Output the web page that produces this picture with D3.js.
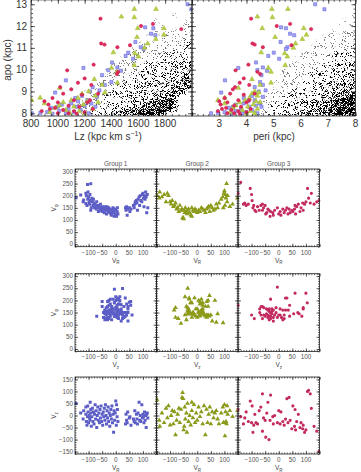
<!DOCTYPE html>
<html>
<head>
<meta charset="utf-8">
<script src="https://cdn.jsdelivr.net/npm/d3@7"></script>
<style>
  body { margin: 0; background: #fff; }
  svg { display: block; }
  text { font-family: "Liberation Sans", "DejaVu Sans", sans-serif; }
</style>
</head>
<body>
<svg id="fig" width="361" height="472"></svg>
<script>
//////////////////
// Data
//////////////////

// background sample, density per cell (0-9), rows from apo 13.0 down to 8.0 (step 0.25)
// apo vs Lz : columns Lz 800..1950 step 50
var densityLz = [
    "000000000000000000000000",
    "000000000000000000000000",
    "000000000000000000000100",
    "000000000000000000100001",
    "000000000000000000010011",
    "000000000000000000101111",
    "000000000000000001011111",
    "000000000000000010111112",
    "000000000000000111111122",
    "000000000000001111112222",
    "000000000000011111122223",
    "000000000000111112222333",
    "000000000001111122223334",
    "000000000011111222333445",
    "000000000011112223334456",
    "000000000111122233344567",
    "000000001111222333445670",
    "000000001112223334456700",
    "000000011112233445678400",
    "000000111222334567889500",
    "000000111234567899970000"
];
// apo vs peri : columns peri 2..7.75 step 0.25
var densityPeri = [
    "000000000000000000000000",
    "000000000000000000000000",
    "000000000000000000000001",
    "000000000000000000000010",
    "000000000000000000000101",
    "000000000000000000001011",
    "000000000000000000011111",
    "000000000000000000111111",
    "000000000000000001111112",
    "000000000000000011111222",
    "000000000000000111112222",
    "000000000000001111122223",
    "000000000000011111222333",
    "000000000000011112223334",
    "000000000000111122233344",
    "000000000000111222333445",
    "000000000001112223334456",
    "000000000011122233445677",
    "000000000011222334456788",
    "000000000112223344567899",
    "000000000112233445678999"
];

// orbital parameters of the groups: [Lz, apo, peri]
var orbitGroup1 = [
    [1967,13.0,6.52],[1995,12.77,6.86],[1651,11.94,5.27],[1712,11.9,5.45],[1695,11.65,5.6],
    [1727,11.58,5.75],[1578,11.27,5.25],[1618,11.03,5.5],[1640,10.95,5.45],[1525,10.78,5.0],
    [1505,10.63,4.8],[1560,10.5,5.2],[1404,10.33,4.35],[1444,10.1,4.6],[1376,9.98,4.4],
    [1470,9.95,4.75],[1191,10.08,3.7],[1330,9.75,4.55],[1060,9.51,3.21],[1399,9.43,4.5],
    [1350,9.3,4.6],[1260,9.2,4.3],[1310,9.05,4.7],[980,8.95,3.07],[1240,9.0,4.45],
    [1180,8.8,4.2],[1290,8.75,4.6],[1220,8.6,4.3],[1150,8.55,4.05],[1100,8.45,3.9],
    [1250,8.45,4.5],[1030,8.4,3.6],[1200,8.35,4.35],[1140,8.3,4.1],[950,8.25,3.35],
    [1080,8.2,3.8],[1170,8.15,4.2],[1010,8.1,3.6],[920,8.05,3.2],[1120,8.05,4.0],
    [1060,8.0,3.85],[960,7.98,3.45],[1230,8.0,4.4],[870,8.02,2.95],[805,8.0,2.7],
    [1000,8.3,3.5],[1130,8.7,3.9],[1280,8.3,4.55]
];
var orbitGroup2 = [
    [1570,12.78,4.93],[1732,12.78,5.52],[1474,12.43,4.4],[1570,12.4,4.95],[1595,11.9,4.58],
    [1790,11.9,6.1],[1590,11.49,5.05],[1730,11.4,6.05],[1790,11.6,6.2],[1414,10.79,4.54],
    [1646,11.0,5.72],[1670,11.2,5.8],[1575,10.75,5.4],[1600,10.6,5.5],[1570,10.2,5.42],
    [1400,10.08,4.8],[1440,9.9,4.9],[1272,9.56,4.2],[1444,9.4,4.9],[1330,9.3,4.5],
    [1014,9.16,3.7],[868,8.71,3.2],[805,8.6,2.95],[1230,9.0,4.3],[1180,8.9,4.2],
    [1280,8.8,4.4],[1150,8.7,4.1],[1100,8.6,3.95],[1220,8.55,4.35],[1040,8.5,3.75],
    [900,8.45,3.2],[1190,8.4,4.25],[1120,8.3,4.05],[980,8.25,3.5],[1260,8.2,4.4],
    [1060,8.15,3.85],[1160,8.1,4.15],[940,8.05,3.4],[1090,8.0,4.0],[1200,8.0,4.3],
    [1010,8.35,3.6],[1300,8.5,4.5],[1350,8.95,4.45]
];
var orbitGroup3 = [
    [1318,12.34,4.17],[1709,12.1,5.6],[1920,11.86,6.37],[1620,12.0,5.11],[1323,11.2,4.22],
    [1348,11.15,4.3],[1444,11.03,4.6],[1538,11.12,5.65],[1450,9.9,4.4],[1440,9.8,4.5],
    [1267,10.23,4.07],[1070,9.97,3.6],[1018,9.2,3.58],[1200,9.6,3.9],[1150,9.4,3.75],
    [1100,9.1,3.5],[1250,9.3,4.1],[1040,8.9,3.4],[960,8.7,3.2],[1180,8.85,3.9],
    [900,8.55,3.0],[1120,8.6,3.7],[1000,8.5,3.3],[1220,8.5,4.0],[930,8.4,3.05],
    [1080,8.35,3.55],[1160,8.3,3.8],[980,8.25,3.25],[1260,8.2,4.15],[1040,8.15,3.45],
    [1120,8.1,3.7],[880,8.1,2.95],[1200,8.05,4.0],[1000,8.0,3.3],[1140,7.98,3.75],
    [1080,8.0,3.55],[940,8.2,3.1],[1240,8.6,4.1],[1300,8.9,4.3]
];

// velocities of the groups: [V_R, V_phi, V_z]
var velGroup1 = [
    [-146,192,50],[-129,203,10],[-120,175,-15],[-118,182,20],[-110,210,35],[-108,200,-25],
    [-110,168,5],[-106,160,-40],[-104,246,-5],[-102,215,15],[-100,195,-30],[-103,185,40],
    [-98,172,0],[-92,249,25],[-95,205,-20],[-94,180,55],[-96,165,-10],[-90,150,-45],
    [-92,140,10],[-88,190,-5],[-86,175,30],[-84,160,-25],[-82,185,15],[-80,170,-35],
    [-78,150,5],[-76,165,45],[-74,155,-15],[-72,145,20],[-70,175,-50],[-68,160,0],
    [-66,150,35],[-64,135,-20],[-62,160,10],[-60,150,-30],[-58,140,25],[-56,165,-10],
    [-54,150,40],[-52,145,-25],[-50,135,5],[-48,155,-40],[-46,150,15],[-44,140,-5],
    [-42,130,30],[-40,155,-20],[-38,150,45],[-36,140,0],[-34,125,-35],[-32,155,20],
    [-30,145,-10],[-28,135,35],[-26,150,-25],[-24,140,10],[-22,130,-45],[-20,145,0],
    [-18,125,25],[-16,120,-15],[-14,140,40],[-12,130,-30],[-10,150,5],[-8,135,-70],
    [-6,115,20],[-4,145,-20],[-2,125,10],[0,140,60],[2,120,-40],[3,115,45],
    [5,135,-5],[6,150,25],[8,125,-25],[36,150,-35],[38,140,5],[40,155,-20],
    [44,145,15],[42,120,-30],[50,150,-10],[52,135,-5],[56,145,-40],[65,160,-15],
    [68,150,-25],[70,165,20],[72,175,-30],[76,180,5],[78,170,-15],[80,140,-35],
    [82,185,10],[86,195,55],[88,160,-20],[90,200,0],[92,180,-25],[96,175,45],
    [98,205,-10],[100,210,5],[102,190,-5],[104,155,-30],[106,200,15],[108,185,-20],
    [110,215,0],[112,195,-50],[114,130,5],[116,205,10],[118,150,-10]
];
var velGroup2 = [
    [-148,200,65],[-138,215,-45],[-130,195,10],[-122,205,-30],[-115,175,30],[-110,210,-10],
    [-106,200,40],[-100,175,-40],[-96,165,0],[-92,180,20],[-88,155,-35],[-84,160,15],
    [-80,170,-80],[-76,145,-20],[-72,150,5],[-68,135,30],[-64,160,-30],[-60,140,25],
    [-56,145,75],[-54,108,95],[-52,110,70],[-50,105,-60],[-48,140,-45],[-46,130,35],
    [-44,150,-15],[-40,135,10],[-38,125,-70],[-36,140,50],[-32,145,-25],[-28,130,0],
    [-24,120,-40],[-20,150,20],[-16,140,-10],[-12,135,45],[-8,145,-30],[-4,140,10],
    [0,130,-20],[5,140,35],[10,135,-5],[15,150,15],[20,145,-35],[25,140,40],
    [30,130,-80],[34,145,25],[38,150,-30],[42,155,5],[46,135,35],[50,160,-35],
    [55,150,15],[60,140,-10],[70,165,20],[80,170,-35],[88,185,10],[94,195,35],
    [98,210,-30],[100,220,45],[102,160,-85],[104,205,15],[106,190,-25],[108,250,-35],
    [110,175,40],[112,200,5],[96,150,-30],[120,155,20],[130,165,-5],[148,190,20],
    [-140,190,-20],[75,150,-15],[-20,115,55],[65,145,10]
];
var velGroup3 = [
    [-150,210,25],[-140,255,-5],[-130,165,-35],[-125,170,-10],[-120,160,15],[-112,165,-25],
    [-105,230,60],[-100,205,-30],[-98,180,40],[-92,160,-40],[-88,140,5],[-84,135,-30],
    [-78,155,-35],[-72,140,20],[-66,160,35],[-60,165,90],[-56,150,-10],[-50,160,-20],
    [-48,125,-90],[-44,130,10],[-40,145,55],[-36,140,-100],[-32,115,-20],[-30,135,85],
    [-22,130,-5],[-15,140,0],[-5,150,-30],[0,125,20],[5,135,-35],[8,120,15],
    [15,145,-25],[20,130,-40],[25,140,-15],[30,150,70],[34,125,-30],[38,145,75],
    [42,130,-20],[48,140,-55],[52,135,40],[58,145,-45],[62,125,-60],[66,155,-25],
    [72,165,5],[78,135,-50],[82,150,-30],[88,170,-55],[95,165,-70],[100,175,-60],
    [106,230,100],[110,190,105],[116,170,90],[120,210,30],[130,165,-45],[140,175,-65],
    [148,180,-150],[-60,140,-65],[-95,150,-70],[-20,120,-35],[60,160,25],[90,140,-40]
];

var groupNames = ["Group 1", "Group 2", "Group 3"];
var lzTicks = [800, 1000, 1200, 1400, 1600, 1800];
var periTicks = [3, 4, 5, 6, 7, 8];
var apoTicks = [8, 9, 10, 11, 12, 13];
var velTicks = [-100, -50, 0, 50, 100];
var vphiTicks = [0, 50, 100, 150, 200, 250, 300];
var vzTicks = [-150, -100, -50, 0, 50, 100, 150];


//////////////////
// Setup
//////////////////

var svg = d3.select("#fig");

// stipple look for the background sample: blurred density cut against a fine noise texture
var defs = svg.append("defs");
var stip = defs.append("filter").attr("id", "stipple")
    .attr("x", "-5%").attr("y", "-5%").attr("width", "110%").attr("height", "110%");
stip.append("feTurbulence")
    .attr("type", "fractalNoise").attr("baseFrequency", 1.9)
    .attr("numOctaves", 1).attr("seed", 7).attr("result", "noise");
stip.append("feColorMatrix")
    .attr("in", "noise").attr("type", "matrix")
    .attr("values", "0 0 0 0 0  0 0 0 0 0  0 0 0 0 0  3.6 0 0 0 -1.25")
    .attr("result", "nmask");
stip.append("feGaussianBlur")
    .attr("in", "SourceGraphic").attr("stdDeviation", 1.4).attr("result", "dens");
stip.append("feComposite")
    .attr("in", "dens").attr("in2", "nmask").attr("operator", "arithmetic")
    .attr("k1", 0).attr("k2", 1).attr("k3", -1).attr("k4", 0).attr("result", "diff");
stip.append("feComponentTransfer").attr("in", "diff")
    .append("feFuncA").attr("type", "linear")
    .attr("slope", 5).attr("intercept", -0.15);

var topStyle = [
    { shape: d3.symbolSquare,   size: 10, fill: "#a4a4f6", stroke: "#5a5ad6" },
    { shape: d3.symbolTriangle, size: 10, fill: "#b8d048", stroke: "#9cb428" },
    { shape: d3.symbolCircle,   size: 9,  fill: "#e02a5c", stroke: "#c81a4c" }
];
var lowStyle = [
    { shape: d3.symbolSquare,   size: 9,  fill: "#5c5ec6" },
    { shape: d3.symbolTriangle, size: 10, fill: "#8c9a1a" },
    { shape: d3.symbolCircle,   size: 8,  fill: "#c22a60" }
];

function fmt(d) { return d < 0 ? "\u2212" + (-d) : String(d); }

// IDL like box: inward ticks on all four sides
function drawBox(g, x, y, o) {
    var x0 = x.range()[0], x1 = x.range()[1];
    var y0 = y.range()[0], y1 = y.range()[1];

    g.append("rect")
        .attr("x", x0).attr("y", Math.min(y0, y1))
        .attr("width", x1 - x0).attr("height", Math.abs(y1 - y0))
        .attr("fill", "none").attr("stroke", "#222").attr("stroke-width", 0.8);

    var sides = [
        { ax: d3.axisBottom(x), t: "translate(0," + y0 + ")", v: o.xMajor, m: o.xMinor },
        { ax: d3.axisTop(x),    t: "translate(0," + y1 + ")", v: o.xMajor, m: o.xMinor },
        { ax: d3.axisLeft(y),   t: "translate(" + x0 + ",0)", v: o.yMajor, m: o.yMinor },
        { ax: d3.axisRight(y),  t: "translate(" + x1 + ",0)", v: o.yMajor, m: o.yMinor }
    ];
    sides.forEach(function (s) {
        [[s.m, o.minorLen], [s.v, o.majorLen]].forEach(function (p) {
            var a = g.append("g").attr("transform", s.t)
                .call(s.ax.tickValues(p[0]).tickSize(-p[1]).tickFormat(""));
            a.select(".domain").remove();
            a.selectAll("line").attr("stroke", "#222").attr("stroke-width", 0.7);
        });
    });

    if (o.xLabels) {
        g.append("g").selectAll("text")
            .data(o.xLabels).enter().append("text")
            .attr("x", function (d) { return x(d); })
            .attr("y", y0 + o.xLabelDy)
            .attr("text-anchor", "middle")
            .attr("font-size", o.font)
            .attr("fill", o.color)
            .text(fmt);
    }
    if (o.yLabels) {
        g.append("g").selectAll("text")
            .data(o.yLabels).enter().append("text")
            .attr("x", x0 - o.yLabelDx)
            .attr("y", function (d) { return y(d); })
            .attr("dy", "0.35em")
            .attr("text-anchor", "end")
            .attr("font-size", o.font)
            .attr("fill", o.color)
            .text(fmt);
    }
}

function drawDensity(g, rows, x, y, xStart, xStep) {
    var cells = [];
    rows.forEach(function (row, i) {
        var top = 13.125 - i * 0.25;
        row.split("").forEach(function (c, j) {
            var d = +c;
            if (d > 0) { cells.push({ x0: xStart + j * xStep, y0: top, d: d }); }
        });
    });
    g.append("g").attr("filter", "url(#stipple)")
        .selectAll("rect")
        .data(cells).enter().append("rect")
            .attr("x", function (c) { return x(c.x0); })
            .attr("y", function (c) { return y(c.y0); })
            .attr("width", function (c) { return x(c.x0 + xStep) - x(c.x0) + 0.3; })
            .attr("height", function (c) { return y(c.y0 - 0.25) - y(c.y0) + 0.3; })
            .attr("fill", "#000")
            .attr("fill-opacity", function (c) { return Math.pow(c.d / 9, 0.95); });
}

function drawPoints(g, data, xi, yi, x, y, st) {
    g.append("g").selectAll("path")
        .data(data).enter().append("path")
            .attr("transform", function (d) { return "translate(" + x(d[xi]) + "," + y(d[yi]) + ")"; })
            .attr("d", d3.symbol().type(st.shape).size(st.size))
            .attr("fill", st.fill)
            .attr("stroke", st.stroke || "none")
            .attr("stroke-width", 0.5);
}


//////////////////////
// Top: apo vs Lz / peri
//////////////////////

var xLz = d3.scaleLinear().domain([800, 2000]).range([31, 192]);
var xPeri = d3.scaleLinear().domain([2, 8]).range([192, 355.5]);
var yApo = d3.scaleLinear().domain([7.875, 13.2]).range([116, -0.1]);

var orbits = [orbitGroup1, orbitGroup2, orbitGroup3];

var gLz = svg.append("g");
gLz.append("clipPath").attr("id", "clipLz")
    .append("rect").attr("x", 31).attr("y", -2).attr("width", 161).attr("height", 118);
var gLzIn = gLz.append("g").attr("clip-path", "url(#clipLz)");
drawDensity(gLzIn, densityLz, xLz, yApo, 800, 50);
orbits.forEach(function (o, k) { drawPoints(gLzIn, o, 0, 1, xLz, yApo, topStyle[k]); });

var gPeri = svg.append("g");
gPeri.append("clipPath").attr("id", "clipPeri")
    .append("rect").attr("x", 192).attr("y", -2).attr("width", 164).attr("height", 118);
var gPeriIn = gPeri.append("g").attr("clip-path", "url(#clipPeri)");
drawDensity(gPeriIn, densityPeri, xPeri, yApo, 2, 0.25);
orbits.forEach(function (o, k) { drawPoints(gPeriIn, o, 2, 1, xPeri, yApo, topStyle[k]); });

drawBox(gLz, xLz, yApo, {
    xMajor: d3.range(800, 2001, 200), xMinor: d3.range(800, 2001, 50),
    yMajor: d3.range(8, 14, 1), yMinor: d3.range(8, 13.1, 0.2),
    majorLen: 4, minorLen: 2,
    xLabels: lzTicks, yLabels: apoTicks, xLabelDy: 11, yLabelDx: 4,
    font: 10, color: "#333"
});
drawBox(gPeri, xPeri, yApo, {
    xMajor: d3.range(2, 8.01, 1), xMinor: d3.range(2, 8.01, 0.2),
    yMajor: d3.range(8, 14, 1), yMinor: d3.range(8, 13.1, 0.2),
    majorLen: 4, minorLen: 2,
    xLabels: periTicks, xLabelDy: 11,
    font: 10, color: "#333"
});

svg.append("text")
    .attr("transform", "translate(11,60) rotate(-90)")
    .attr("text-anchor", "middle").attr("font-size", 10).attr("fill", "#333")
    .text("apo (kpc)");

var lzTitle = svg.append("text")
    .attr("x", 108).attr("y", 140)
    .attr("text-anchor", "middle").attr("font-size", 10).attr("fill", "#333");
lzTitle.append("tspan").text("Lz (kpc km s");
lzTitle.append("tspan").attr("dy", -4).attr("font-size", 7).text("\u22121");
lzTitle.append("tspan").attr("dy", 4).text(")");

svg.append("text")
    .attr("x", 274).attr("y", 140)
    .attr("text-anchor", "middle").attr("font-size", 10).attr("fill", "#333")
    .text("peri (kpc)");


//////////////////////
// Bottom: velocity planes
//////////////////////

var panelX = [[75, 156.5], [156.5, 238], [238, 319.5]];
var velRows = [
    { y: [246.7, 169],   dom: [-10, 310],  xi: 0, yi: 1, ticks: vphiTicks, xName: "R", yName: "\u03c6" },
    { y: [351.4, 273.7], dom: [-10, 310],  xi: 2, yi: 1, ticks: vphiTicks, xName: "z", yName: "\u03c6" },
    { y: [454, 377],     dom: [-160, 160], xi: 0, yi: 2, ticks: vzTicks,   xName: "R", yName: "z" }
];
var vels = [velGroup1, velGroup2, velGroup3];

function subLabel(g, x, y, sub, rotate) {
    var t = g.append("text")
        .attr("text-anchor", "middle").attr("font-size", 6.5).attr("fill", "#444");
    if (rotate) { t.attr("transform", "translate(" + x + "," + y + ") rotate(-90)"); }
    else { t.attr("x", x).attr("y", y); }
    t.append("tspan").text("V");
    t.append("tspan").attr("dy", 1.6).attr("font-size", 4.5).text(sub);
}

velRows.forEach(function (row, r) {
    var y = d3.scaleLinear().domain(row.dom).range(row.y);
    panelX.forEach(function (px, p) {
        var x = d3.scaleLinear().domain([-150, 150]).range(px);
        var g = svg.append("g");
        var id = "clipV" + r + p;
        g.append("clipPath").attr("id", id)
            .append("rect").attr("x", px[0] - 1).attr("y", row.y[1] - 1)
            .attr("width", px[1] - px[0] + 2).attr("height", row.y[0] - row.y[1] + 2);
        var gi = g.append("g").attr("clip-path", "url(#" + id + ")");
        drawPoints(gi, vels[p], row.xi, row.yi, x, y, lowStyle[p]);

        drawBox(g, x, y, {
            xMajor: d3.range(-150, 151, 50), xMinor: d3.range(-150, 151, 10),
            yMajor: row.ticks, yMinor: d3.range(row.dom[0], row.dom[1] + 1, 10),
            majorLen: 3, minorLen: 1.5,
            xLabels: velTicks, yLabels: p === 0 ? row.ticks : null,
            xLabelDy: 8, yLabelDx: 2,
            font: 6.3, color: "#555"
        });

        subLabel(svg, (px[0] + px[1]) / 2, row.y[0] + 16, row.xName, false);
        if (r === 0) {
            svg.append("text")
                .attr("x", (px[0] + px[1]) / 2).attr("y", row.y[1] - 3)
                .attr("text-anchor", "middle").attr("font-size", 6.5).attr("fill", "#555")
                .text(groupNames[p]);
        }
    });
    subLabel(svg, 56, (row.y[0] + row.y[1]) / 2, row.yName, true);
});
</script>
</body>
</html>
